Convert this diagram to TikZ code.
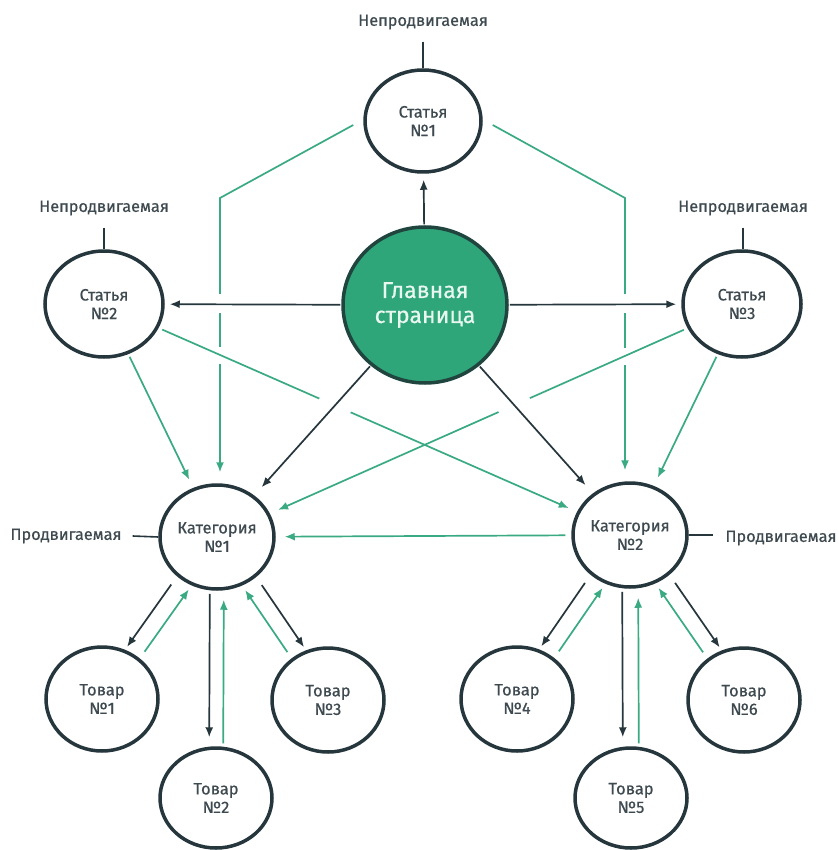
\documentclass[tikz,border=0pt]{standalone}
\usepackage{fontspec}
\setmainfont{Fira Sans}[FakeBold=0.5]
\usetikzlibrary{shapes.geometric,arrows.meta,calc,intersections}
\definecolor{dk}{HTML}{26363D}
\definecolor{gr}{HTML}{3AAA82}
\definecolor{mainfill}{HTML}{2EA67A}
\definecolor{mainedge}{HTML}{1F453E}
\definecolor{txt}{HTML}{3E4A50}
\definecolor{maintxt}{HTML}{E8F7F0}
\tikzset{
  bub/.style={ellipse, draw=dk, line width=3.5pt, fill=white, inner sep=0pt,
    minimum width=114pt, minimum height=104pt, align=center, text=txt,
    font=\fontsize{16.5}{18.5}\selectfont},
  hub/.style={ellipse, draw=mainedge, line width=3.5pt, fill=mainfill, inner sep=0pt,
    minimum width=164pt, minimum height=156pt, align=center, text=maintxt,
    font=\fontsize{23}{25}\selectfont},
  tag/.style={text=txt, font=\fontsize{16.3}{18}\selectfont, inner sep=0pt},
  tagline/.style={draw=dk, line width=1.6pt},
  tip/.style={-{Latex[length=10pt,width=8pt]}},
  dkarrow/.style={draw=dk, line width=1.7pt, tip, shorten >=9pt, shorten <=3pt},
  grarrow/.style={draw=gr, line width=1.7pt, tip, shorten >=9pt, shorten <=3pt},
  gapline/.style={draw=white, line width=5pt},
}
\begin{document}
\begin{tikzpicture}[x=1pt,y=-1pt]
\path[use as bounding box, fill=white] (0,0) rectangle (838,850);

% nodes
\node[hub] (main) at (425,305) {Главная\\страница};
\node[bub, minimum width=116pt, minimum height=102pt] (s1) at (423,121) {Статья\\№1};
\node[bub, minimum width=118pt, minimum height=106pt] (s2) at (104,304) {Статья\\№2};
\node[bub, minimum width=118pt, minimum height=106pt] (s3) at (742,304) {Статья\\№3};
\node[bub] (c1) at (217,537) {Категория\\№1};
\node[bub] (c2) at (630,535) {Категория\\№2};
\node[bub, minimum width=112pt] (t1) at (102,699) {Товар\\№1};
\node[bub, minimum width=112pt, minimum height=100pt] (t2) at (216,798) {Товар\\№2};
\node[bub, minimum width=112pt] (t3) at (328,700) {Товар\\№3};
\node[bub, minimum width=112pt] (t4) at (517,699) {Товар\\№4};
\node[bub, minimum width=112pt, minimum height=100pt] (t5) at (631,798) {Товар\\№5};
\node[bub, minimum width=112pt] (t6) at (744,700) {Товар\\№6};

% tags
\node[tag] (l1) at (423,22) {Непродвигаемая};
\node[tag] (l2) at (104,208) {Непродвигаемая};
\node[tag] (l3) at (743,208) {Непродвигаемая};
\node[tag] (l4) at (66,536) {Продвигаемая};
\node[tag] (l5) at (781,538) {Продвигаемая};
\draw[tagline] (l1.south) ++(0,12) coordinate (l1b) -- (l1b |- s1.north);
\draw[tagline] (l2.south) ++(0,12) coordinate (l2b) -- (l2b |- s2.north);
\draw[tagline] (l3.south) ++(0,12) coordinate (l3b) -- (l3b |- s3.north);
\draw[tagline] (l4.east) ++(11,0) coordinate (l4b) -- (c1.west);
\draw[tagline] (c2.east) -- ++(24,0) coordinate (l5b);

% green bent connectors from Статья 1
\coordinate (k1) at (220,198);
\coordinate (k2) at (625,198);
\draw[grarrow, shorten <=0pt, shorten >=11pt, name path=v1]
  ([shift={(-10,4)}]s1.west) -- (k1) -- (k1 |- c1.north);
\draw[grarrow, shorten <=0pt, shorten >=11pt, name path=v2]
  ([shift={(10,4)}]s1.east) -- (k2) -- (k2 |- c2.north);

% invisible paths for crossings
\path[name path=d1] (s2) -- (c2);
\path[name path=d2] (s3) -- (c1);
\path[name path=h2] (main) -- (s2);
\path[name path=h3] (main) -- (s3);
\path[name path=a1] (main) -- (c1);
\path[name path=a2] (main) -- (c2);

% gaps in the vertical green lines
\path[name intersections={of=v1 and d1, by=x1}];
\path[name intersections={of=v2 and d2, by=x2}];
\path[name intersections={of=v1 and h2, by=x3}];
\path[name intersections={of=v2 and h3, by=x4}];
\draw[gapline] ($(x1)+(0,-8)$) -- ($(x1)+(0,9)$);
\draw[gapline] ($(x2)+(0,-8)$) -- ($(x2)+(0,9)$);
\draw[gapline] ($(x3)+(0,-10)$) -- ($(x3)+(0,9)$);
\draw[gapline] ($(x4)+(0,-10)$) -- ($(x4)+(0,9)$);

% green diagonals
\draw[grarrow, shorten <=4pt] (s2) -- (c2);
\draw[grarrow, shorten <=4pt] (s3) -- (c1);
\draw[grarrow] (s2) -- (c1);
\draw[grarrow] (s3) -- (c2);
\draw[grarrow, shorten <=6pt] (c2) -- (c1);

% gaps in the green diagonals
\path[name intersections={of=d1 and a1, by=x5}];
\path[name intersections={of=d2 and a2, by=x6}];
\draw[gapline] ($(x5)!17pt!(s2)$) -- ($(x5)!17pt!(c2)$);
\draw[gapline] ($(x6)!17pt!(s3)$) -- ($(x6)!17pt!(c1)$);

% dark arrows from the main page
\draw[dkarrow, shorten <=1pt, shorten >=6pt] (main) -- (s1);
\draw[dkarrow, shorten <=1pt, shorten >=5pt] (main) -- (s2);
\draw[dkarrow, shorten <=1pt, shorten >=5pt] (main) -- (s3);
\draw[dkarrow, shorten <=1pt, shorten >=11pt] (main) -- (c1);
\draw[dkarrow, shorten <=1pt, shorten >=11pt] (main) -- (c2);

% category <-> products
\draw[dkarrow, transform canvas={xshift=-12pt}] (c1) -- (t1);
\draw[grarrow, transform canvas={xshift=9pt}] (t1) -- (c1);
\draw[dkarrow, transform canvas={xshift=-7pt}] (c1) -- (t2);
\draw[grarrow, transform canvas={xshift=7pt}] (t2) -- (c1);
\draw[dkarrow, transform canvas={xshift=12pt}] (c1) -- (t3);
\draw[grarrow, transform canvas={xshift=-8pt}] (t3) -- (c1);

\draw[dkarrow, transform canvas={xshift=-12pt}] (c2) -- (t4);
\draw[grarrow, transform canvas={xshift=9pt}] (t4) -- (c2);
\draw[dkarrow, transform canvas={xshift=-8pt}] (c2) -- (t5);
\draw[grarrow, transform canvas={xshift=8pt}] (t5) -- (c2);
\draw[dkarrow, transform canvas={xshift=12pt}] (c2) -- (t6);
\draw[grarrow, transform canvas={xshift=-8pt}] (t6) -- (c2);
\end{tikzpicture}
\end{document}
